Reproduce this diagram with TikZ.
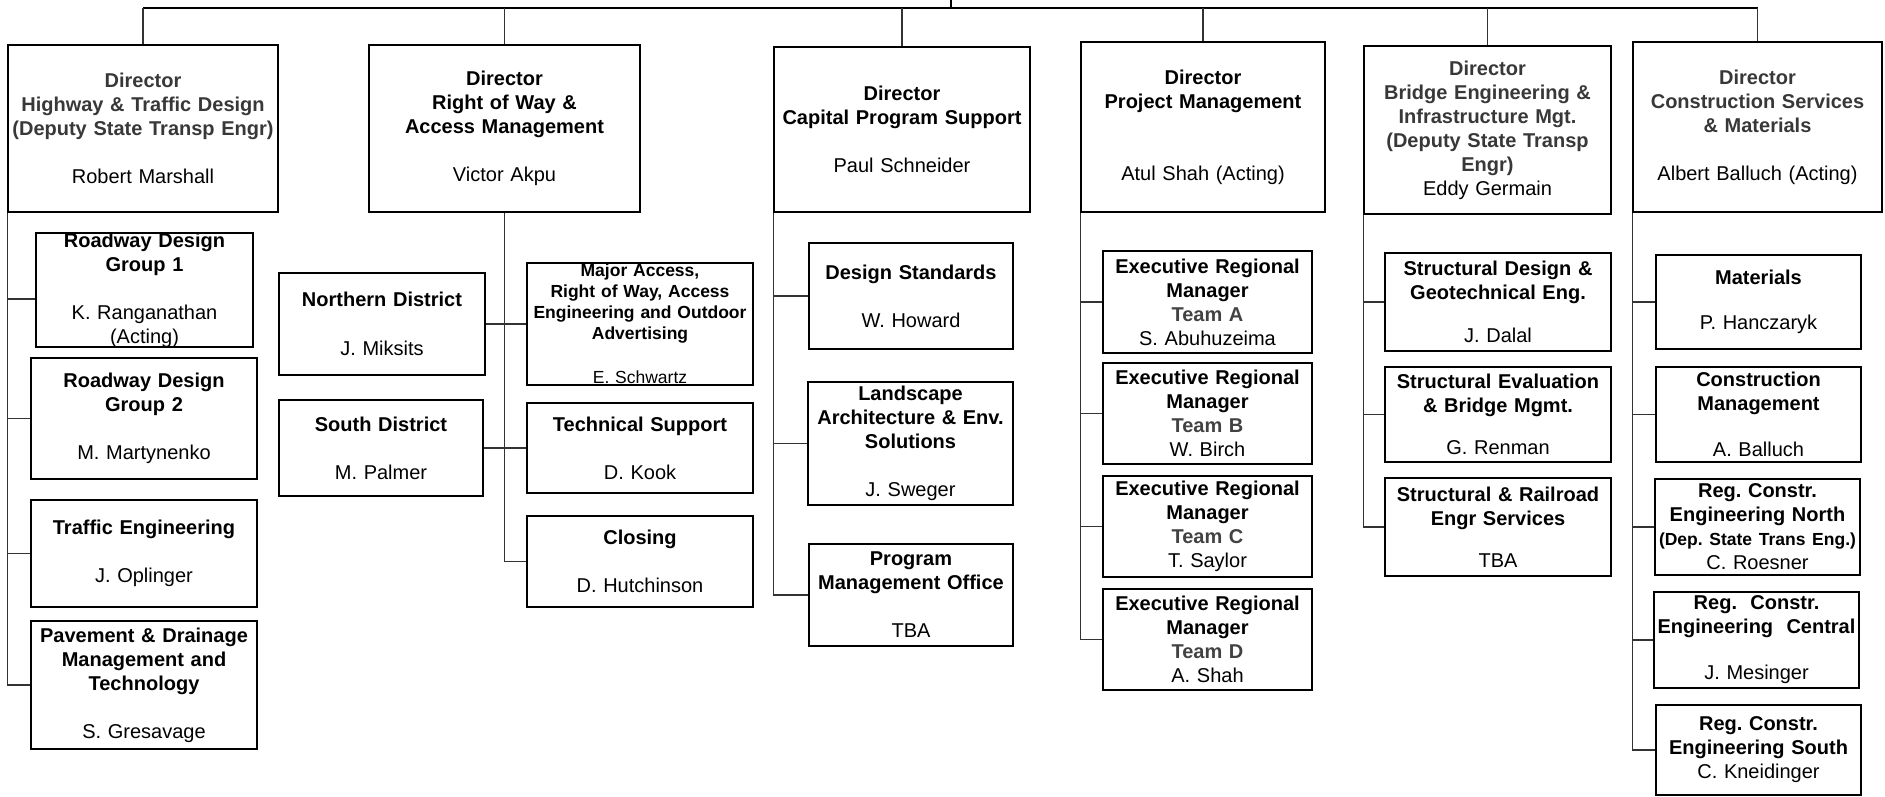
\documentclass[tikz,border=0pt]{standalone}
\usepackage{fontspec}
\setmainfont{Liberation Sans}
\usepackage{tikz}
\definecolor{headgray}{rgb}{0.22,0.22,0.22}
\definecolor{teamgray}{rgb}{0.26,0.26,0.26}
\frenchspacing

\begin{document}
\begin{tikzpicture}
  [x=1pt,y=-1pt,
   every node/.style={draw=black,line width=1.7pt,inner sep=0pt,align=center,
     font=\fontsize{20}{24}\selectfont},
   conn/.style={draw=black!80,line width=1.3pt}]

  \useasboundingbox (0,0) rectangle (1885,796);

  \node[text width=270pt,minimum height=167pt] (hwy) at (143,128.5)
    {{\bfseries\color{headgray}Director\\Highway \& Traffic Design\\(Deputy State Transp Engr)}\\[24pt]Robert Marshall};
  \node[text width=271pt,minimum height=167pt] (row) at (504.5,128.5)
    {{\bfseries Director\\Right of Way \&\\Access Management}\\[24pt]Victor Akpu};
  \node[text width=256pt,minimum height=165pt] (cps) at (902,129.5)
    {{\bfseries Director\\Capital Program Support}\\[24pt]Paul Schneider};
  \node[text width=244pt,minimum height=170pt] (pm) at (1203,127)
    {{\bfseries Director\\Project Management}\\[48pt]Atul Shah (Acting)};
  \node[text width=247pt,minimum height=168pt] (brg) at (1487.5,130)
    {{\bfseries\color{headgray}Director\\Bridge Engineering \&\\Infrastructure Mgt.\\(Deputy State Transp\\Engr)}\\Eddy Germain};
  \node[text width=249pt,minimum height=170pt] (cs) at (1757.5,127)
    {{\bfseries\color{headgray}Director\\Construction Services\\\& Materials}\\[24pt]Albert Balluch (Acting)};

  \node[text width=217pt,minimum height=114pt] (rd1) at (144.5,290)
    {{\bfseries Roadway Design\\Group 1}\\[24pt]K. Ranganathan\\(Acting)};
  \node[text width=226pt,minimum height=121pt] (rd2) at (144,418.5)
    {{\bfseries Roadway Design\\Group 2}\\[24pt]M. Martynenko};
  \node[text width=226pt,minimum height=107pt] (traf) at (144,553.5)
    {{\bfseries Traffic Engineering}\\[24pt]J. Oplinger};
  \node[text width=226pt,minimum height=128pt] (pave) at (144,685)
    {{\bfseries Pavement \& Drainage\\Management and\\Technology}\\[24pt]S. Gresavage};

  \node[text width=206pt,minimum height=102pt] (north) at (382,324)
    {{\bfseries Northern District}\\[25pt]J. Miksits};
  \node[text width=204pt,minimum height=96pt] (south) at (381,448)
    {{\bfseries South District}\\[24pt]M. Palmer};
  \node[text width=226pt,minimum height=122pt,font=\fontsize{17.5}{21}\selectfont] (major) at (640,324)
    {{\bfseries Major Access,\\Right of Way, Access\\Engineering and Outdoor\\Advertising}\\[23pt]E. Schwartz};
  \node[text width=226pt,minimum height=90pt] (tech) at (640,448)
    {{\bfseries Technical Support}\\[24pt]D. Kook};
  \node[text width=226pt,minimum height=91pt] (close) at (640,561.5)
    {{\bfseries Closing}\\[24pt]D. Hutchinson};

  \node[text width=204pt,minimum height=106pt] (dstd) at (911,296)
    {{\bfseries Design Standards}\\[24pt]W. Howard};
  \node[text width=205pt,minimum height=123pt] (land) at (910.5,443.5)
    {{\bfseries Landscape\\Architecture \& Env.\\Solutions}\\[24pt]J. Sweger};
  \node[text width=204pt,minimum height=102pt] (pmo) at (911,595)
    {{\bfseries Program\\Management Office}\\[24pt]TBA};

  \node[text width=209pt,minimum height=102pt] (erma) at (1207.5,302)
    {{\bfseries Executive Regional\\Manager\\\color{teamgray}Team A}\\S. Abuhuzeima};
  \node[text width=209pt,minimum height=101pt] (ermb) at (1207.5,413.5)
    {{\bfseries Executive Regional\\Manager\\\color{teamgray}Team B}\\W. Birch};
  \node[text width=209pt,minimum height=101pt] (ermc) at (1207.5,526.5)
    {{\bfseries Executive Regional\\Manager\\\color{teamgray}Team C}\\T. Saylor};
  \node[text width=209pt,minimum height=101pt] (ermd) at (1207.5,639.5)
    {{\bfseries Executive Regional\\Manager\\\color{teamgray}Team D}\\A. Shah};

  \node[text width=226pt,minimum height=98pt] (sde) at (1498,302)
    {{\bfseries Structural Design \&\\Geotechnical Eng.}\\[19pt]J. Dalal};
  \node[text width=226pt,minimum height=95pt] (sev) at (1498,414.5)
    {{\bfseries Structural Evaluation\\\& Bridge Mgmt.}\\[18pt]G. Renman};
  \node[text width=226pt,minimum height=98pt] (srr) at (1498,527)
    {{\bfseries Structural \& Railroad\\Engr Services}\\[18pt]TBA};

  \node[text width=205pt,minimum height=94pt] (mat) at (1758.5,302)
    {{\bfseries Materials}\\[21pt]P. Hanczaryk};
  \node[text width=205pt,minimum height=95pt] (cmg) at (1758.5,414.5)
    {{\bfseries Construction\\Management}\\[22pt]A. Balluch};
  \node[text width=205pt,minimum height=96pt] (rgn) at (1757.5,527)
    {{\bfseries Reg. Constr.\\Engineering North\\{\fontsize{17.5}{21}\selectfont(Dep. State Trans Eng.)}}\\C. Roesner};
  \node[text width=205pt,minimum height=96pt] (rgc) at (1756.5,640)
    {{\bfseries Reg.\ \ Constr.\\Engineering\ \ Central}\\[22pt]J. Mesinger};
  \node[text width=205pt,minimum height=90pt] (rgs) at (1758.5,750)
    {{\bfseries Reg. Constr.\\Engineering South}\\C. Kneidinger};

  \coordinate (bar) at (951,8);
  \coordinate (head) at (951,0);
  \draw[conn,draw=black] (hwy.north |- bar) -- (cs.north |- bar);
  \draw[conn,draw=black] (head) -- (bar);
  \foreach \dn in {hwy,row,cps,pm,brg,cs}
    \draw[conn] (\dn.north |- bar) -- (\dn.north);

  \draw[conn] (hwy.south west) |- ([yshift=-9pt]rd1.west);
  \foreach \from/\to in {hwy/rd2,hwy/traf,hwy/pave,cps/dstd,cps/land,cps/pmo,pm/erma,pm/ermb,pm/ermc,pm/ermd,brg/sde,brg/sev,brg/srr,cs/mat,cs/cmg,cs/rgn,cs/rgc,cs/rgs}
    \draw[conn] (\from.south west) |- (\to.west);

  \draw[conn] (row.south) |- (close.west);
  \draw[conn] (north.east) -- (major.west);
  \draw[conn] (south.east) -- (tech.west);
\end{tikzpicture}
\end{document}
